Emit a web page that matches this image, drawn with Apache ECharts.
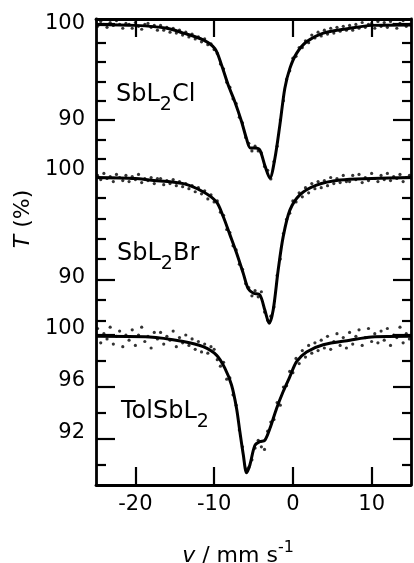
<!DOCTYPE html>
<html><head><meta charset="utf-8">
<script src="https://cdn.jsdelivr.net/npm/echarts@6/dist/echarts.min.js"></script>
<style>html,body{margin:0;padding:0;background:#fff}#c{width:414px;height:563px}</style>
</head><body><div id="c"></div>
<script>
// velocity channels (mm/s)
const velocity = [
 -24.8,-24.4,-24.0,-23.6,-23.2,-22.8,-22.4,-22.0,-21.6,-21.2,
 -20.8,-20.4,-20.0,-19.6,-19.2,-18.8,-18.4,-18.0,-17.6,-17.2,
 -16.8,-16.4,-16.0,-15.6,-15.2,-14.8,-14.4,-14.0,-13.6,-13.2,
 -12.8,-12.4,-12.0,-11.6,-11.2,-10.8,-10.4,-10.0,-9.6,-9.2,
 -8.8,-8.4,-8.0,-7.6,-7.2,-6.8,-6.4,-6.0,-5.6,-5.2,
 -4.8,-4.4,-4.0,-3.6,-3.2,-2.8,-2.4,-2.0,-1.6,-1.2,
 -0.8,-0.4,0.0,0.4,0.8,1.2,1.6,2.0,2.4,2.8,
 3.2,3.6,4.0,4.4,4.8,5.2,5.6,6.0,6.4,6.8,
 7.2,7.6,8.0,8.4,8.8,9.2,9.6,10.0,10.4,10.8,
 11.2,11.6,12.0,12.4,12.8,13.2,13.6,14.0,14.4,14.8
];
// measured transmission (%) — SbL2Cl
const dotsCl = [
 99.7,100.2,99.9,99.6,100.1,99.8,100.3,99.9,99.5,100.0,
 99.9,99.5,100.1,99.7,99.4,99.9,100.0,99.6,99.8,99.3,
 99.8,99.3,99.6,99.1,99.5,99.0,99.3,98.8,99.1,98.6,
 98.9,98.4,98.6,98.1,98.4,97.8,97.9,97.3,96.9,95.8,
 95.3,93.9,93.4,92.2,91.7,90.3,89.7,88.2,87.6,86.8,
 87.3,86.8,86.6,85.2,84.8,83.9,85.7,87.3,90.0,92.0,
 94.2,95.1,96.4,96.6,97.5,97.5,98.2,98.0,98.8,98.5,
 99.1,98.7,99.3,98.9,99.5,99.0,99.6,99.2,99.7,99.3,
 99.8,99.3,99.9,99.5,100.1,99.6,99.9,100.0,99.5,100.2,
 99.7,100.1,99.6,100.2,99.9,99.5,100.0,100.3,99.7,99.9
];
// SbL2Br
const dotsBr = [
 100.2,99.8,100.4,99.9,100.1,99.6,100.3,100.0,99.7,100.2,
 99.6,100.1,99.8,100.3,99.5,99.9,99.7,100.0,99.4,99.9,
 99.9,99.3,99.7,99.4,99.8,99.2,99.6,99.1,99.4,98.9,
 99.2,98.6,99.0,98.4,98.7,97.9,98.3,97.6,97.7,96.6,
 96.3,94.9,94.6,93.3,92.9,91.5,91.0,89.6,89.2,88.4,
 88.9,88.3,88.8,86.8,86.0,86.4,87.3,90.4,92.0,94.5,
 95.9,96.5,97.7,97.6,98.5,98.1,99.0,98.5,99.4,98.9,
 99.6,99.0,99.7,99.2,100.0,99.4,99.9,99.5,100.2,99.6,
 99.6,100.2,99.8,100.3,99.5,100.0,99.7,100.4,99.9,99.6,
 100.2,99.8,100.4,99.7,100.1,99.9,100.3,99.6,100.0,100.2
];
// TolSbL2
const dotsTol = [
 100.5,99.4,100.1,99.7,100.6,99.3,99.9,100.3,99.1,100.0,
 99.6,100.4,99.2,100.0,100.6,99.5,99.9,99.0,100.2,99.7,
 100.2,99.3,99.9,99.6,100.3,99.1,99.8,99.4,100.0,99.2,
 99.7,98.9,99.5,98.7,99.3,98.6,99.1,98.9,98.1,97.6,
 97.9,96.6,96.7,95.4,94.6,92.7,91.4,89.7,89.8,90.4,
 91.3,91.9,91.4,91.2,92.6,93.3,93.5,94.8,94.6,96.0,
 96.1,97.2,97.1,98.2,97.8,98.8,98.3,99.2,98.6,99.4,
 98.8,99.6,99.0,99.9,98.9,99.5,100.1,99.2,99.8,99.0,
 100.2,99.3,99.9,100.4,99.2,99.8,100.5,99.5,100.1,99.4,
 100.3,99.6,100.5,99.2,100.0,99.8,100.6,99.4,100.1,99.7
];
// fitted curves [velocity, T%]
const fitCl = [[-25,99.9],[-20,99.8],[-16,99.5],[-13.9,99.0],[-11.4,98.3],[-9.9,97.4],[-9.06,95.7],[-8.2,93.6],[-7.37,91.9],[-6.5,89.8],[-5.9,88.1],[-5.4,87.1],[-4.8,87.1],[-4.2,86.9],[-3.56,85.3],[-2.92,84.0],[-2.29,86.0],[-1.65,89.5],[-1.02,93.3],[-0.38,95.35],[0.47,96.9],[1.74,98.1],[3.86,99.0],[7.24,99.5],[10,99.8],[15,99.85]];
const fitBr = [[-25,100.0],[-20,99.9],[-18.2,99.75],[-13.9,99.4],[-11.4,98.6],[-9.7,97.6],[-8.86,96.2],[-8.0,94.4],[-7.15,92.6],[-6.3,90.6],[-5.68,89.1],[-5.0,88.65],[-4.2,88.5],[-3.56,87.0],[-3.0,85.7],[-2.5,87.0],[-1.87,90.9],[-1.23,94.2],[-0.38,96.8],[0.89,98.3],[3.0,99.25],[6,99.75],[10,99.9],[15,100.0]];
const fitTol = [[-25,99.9],[-18.2,99.85],[-13.9,99.5],[-11.4,99.1],[-9.7,98.45],[-8.64,97.45],[-7.79,96.15],[-7.15,94.35],[-6.73,92.55],[-6.3,90.8],[-5.88,89.4],[-5.46,90.0],[-4.83,91.5],[-4.19,91.8],[-3.56,91.9],[-2.92,92.8],[-2.07,94.35],[-1.23,95.65],[-0.38,96.8],[0.47,97.95],[1.74,98.7],[3.86,99.25],[7.24,99.6],[10,99.85],[15,99.9]];

const xTicks = [-20, -10, 0, 10];
const clMajor = [100, 90], clMinor = [98, 96, 94, 92, 88, 86];
const brMajor = [100, 90], brMinor = [98, 96, 94, 92, 88, 86];
const tolMajor = [100, 96, 92], tolMinor = [98, 94, 90];
const compoundLabels = ['{m|SbL}{s|2}{m|Cl}', '{m|SbL}{s|2}{m|Br}', '{m|TolSbL}{s|2}'];

const FONT = 'DejaVu Sans';
const INK = '#000';
const LBL = 21;

function yAxes(min, max, major, minor, labelRich, labelFmt) {
  const base = (pos, vals, len, line, lbl) => ({
    type: 'value', min: min, max: max, position: pos,
    splitLine: {show: false},
    axisLine: {show: line, onZero: false, lineStyle: {color: INK, width: 2.8}},
    axisTick: {show: true, inside: true, length: len, customValues: vals, lineStyle: {color: INK, width: 2.2}},
    axisLabel: lbl ? {show: true, customValues: major, margin: 11, fontFamily: FONT, fontSize: LBL, color: INK,
      formatter: labelFmt, rich: labelRich} : {show: false}
  });
  return [
    base('left', major, 19, false, true),
    base('left', minor, 10, false, false),
    base('right', major, 18, false, false),
    base('right', minor, 9, false, false)
  ];
}
const richBase = {fontFamily: FONT, fontSize: LBL, color: INK};
const yA = [].concat(
  yAxes(52.22, 100.46, clMajor, clMinor, {n: richBase}, v => '{n|' + v + '}'),
  yAxes(69.85, 115.54, brMajor, brMinor,
    {a: Object.assign({padding: [0, 0, 15, 0]}, richBase), b: Object.assign({padding: [0, 0, 4, 0]}, richBase)},
    v => (v === 100 ? '{a|' : '{b|') + v + '}'),
  yAxes(88.46, 124.31, tolMajor, tolMinor,
    {a: Object.assign({padding: [0, 0, 13, 0]}, richBase)}, v => '{a|' + v + '}')
);
yA[0].axisLine.show = true;
yA[2].axisLine.show = true;

function panelSeries(dots, fit, axisIdx) {
  return [
    {type: 'scatter', xAxisIndex: 0, yAxisIndex: axisIdx, symbolSize: 3.2, silent: true,
      itemStyle: {color: INK}, data: velocity.map((v, i) => [v, dots[i]])},
    {type: 'line', xAxisIndex: 0, yAxisIndex: axisIdx, showSymbol: false, smooth: 0.3, silent: true,
      lineStyle: {color: INK, width: 3}, data: fit}
  ];
}

const subRich = {
  m: {fontFamily: FONT, fontSize: 24, fill: INK},
  s: {fontFamily: FONT, fontSize: 19, fill: INK, padding: [20, 0, 0, 0]}
};

const chart = echarts.init(document.getElementById('c'), null, {renderer: 'canvas'});
chart.setOption({
  animation: false,
  backgroundColor: '#fff',
  grid: {left: 96, right: 3, top: 19, bottom: 78},
  xAxis: [
    {type: 'value', min: -25, max: 15, position: 'bottom',
      splitLine: {show: false},
      axisLine: {show: true, onZero: false, lineStyle: {color: INK, width: 2.8}},
      axisTick: {show: true, inside: true, length: 18, customValues: xTicks, lineStyle: {color: INK, width: 2.2}},
      axisLabel: {customValues: xTicks, margin: 9, fontFamily: FONT, fontSize: LBL, color: INK}},
    {type: 'value', min: -25, max: 15, position: 'top',
      splitLine: {show: false},
      axisLine: {show: true, onZero: false, lineStyle: {color: INK, width: 2.8}},
      axisTick: {show: true, inside: true, length: 18, customValues: xTicks, lineStyle: {color: INK, width: 2.2}},
      axisLabel: {show: false}}
  ],
  yAxis: yA,
  series: [].concat(
    panelSeries(dotsCl, fitCl, 0),
    panelSeries(dotsBr, fitBr, 4),
    panelSeries(dotsTol, fitTol, 8)
  ),
  graphic: [
    {type: 'text', left: 116, top: 83, style: {text: compoundLabels[0], fill: INK, rich: subRich}},
    {type: 'text', left: 117, top: 242, style: {text: compoundLabels[1], fill: INK, rich: subRich}},
    {type: 'text', left: 121, top: 400, style: {text: compoundLabels[2], fill: INK, rich: subRich}},
    {type: 'text', x: 23, y: 219, rotation: Math.PI / 2, style: {text: '{i|T} (%)', fill: INK,
      align: 'center', verticalAlign: 'middle',
      rich: {i: {fontFamily: FONT, fontSize: 22, fontStyle: 'italic', fill: INK}},
      fontFamily: FONT, fontSize: 22}},
    {type: 'text', x: 238, y: 556, style: {text: '{i|v} / mm s{p|-1}', fill: INK,
      align: 'center', verticalAlign: 'middle', fontFamily: FONT, fontSize: 22,
      rich: {i: {fontFamily: FONT, fontSize: 22, fontStyle: 'italic', fill: INK}, p: {fontFamily: FONT, fontSize: 16, fill: INK, padding: [0, 0, 16, 0]}}}}
  ]
});
</script>
</body></html>
